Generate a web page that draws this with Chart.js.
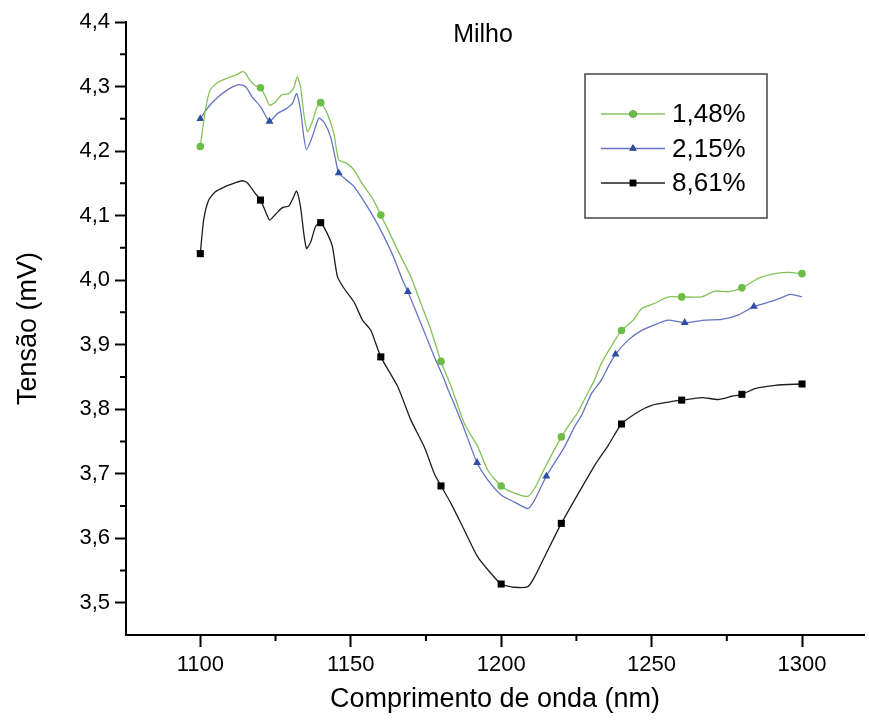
<!DOCTYPE html>
<html lang="pt">
<head>
  <meta charset="UTF-8" />
  <title>Milho</title>
  <style>
    body { margin: 0; background: #fff; }
    #wrap { position: relative; width: 869px; height: 720px; }
  </style>
  <script src="https://cdn.jsdelivr.net/npm/chart.js"></script>
</head>
<body>
  <div id="wrap"><canvas id="chart" width="869" height="720"></canvas></div>
  <script>
    // traced spectra (wavelength nm -> tension mV)
    const greenX = [1100, 1101.7, 1103.3, 1106, 1109.4, 1112, 1114, 1115, 1116, 1118, 1120, 1121.7, 1123, 1125, 1127, 1129.4, 1131, 1132.2, 1133.3, 1134.4, 1135.6, 1137.2, 1138.6, 1140, 1142.2, 1144.4, 1146, 1148.3, 1151, 1154, 1157.2, 1160, 1163.5, 1166.7, 1170, 1173.3, 1176.7, 1180, 1183.3, 1186, 1188, 1192.2, 1195.6, 1200, 1204.4, 1208.9, 1211.1, 1214.4, 1220, 1222.2, 1225.6, 1228, 1231, 1233.3, 1237.2, 1240, 1243.9, 1246.7, 1251, 1255.6, 1260, 1266.7, 1271, 1275.6, 1280, 1285.6, 1291, 1295.6, 1300];
    const greenY = [4.207, 4.264, 4.295, 4.307, 4.314, 4.318, 4.323, 4.321, 4.313, 4.302, 4.298, 4.284, 4.271, 4.276, 4.287, 4.289, 4.297, 4.315, 4.300, 4.258, 4.230, 4.245, 4.266, 4.275, 4.258, 4.227, 4.186, 4.182, 4.171, 4.148, 4.127, 4.101, 4.067, 4.036, 4.005, 3.964, 3.922, 3.874, 3.836, 3.800, 3.775, 3.742, 3.705, 3.681, 3.670, 3.665, 3.677, 3.708, 3.757, 3.773, 3.796, 3.818, 3.845, 3.871, 3.902, 3.922, 3.938, 3.956, 3.964, 3.974, 3.974, 3.974, 3.983, 3.982, 3.988, 4.003, 4.010, 4.012, 4.010];

    const blueX = [1100, 1102.8, 1106, 1109.4, 1112.8, 1115, 1117.2, 1120, 1123, 1125.6, 1128.3, 1130.6, 1132, 1133.3, 1134.4, 1135.3, 1137.2, 1139.4, 1141.1, 1143.3, 1145, 1146, 1149.4, 1151.1, 1153.9, 1157.8, 1161.1, 1164.4, 1167.2, 1169, 1173.3, 1177.8, 1180.9, 1182.2, 1185, 1187, 1192, 1195.6, 1200, 1204.4, 1208.9, 1211.1, 1215, 1221.1, 1224.4, 1226.7, 1230, 1233.3, 1235.6, 1238, 1242.2, 1246.7, 1252.2, 1255.6, 1261, 1267.8, 1273.3, 1278.9, 1284, 1291.1, 1296.1, 1300];
    const blueY = [4.250, 4.269, 4.284, 4.296, 4.303, 4.300, 4.284, 4.269, 4.246, 4.258, 4.265, 4.274, 4.289, 4.264, 4.222, 4.202, 4.222, 4.251, 4.245, 4.222, 4.186, 4.166, 4.152, 4.145, 4.126, 4.096, 4.067, 4.034, 4.000, 3.982, 3.933, 3.881, 3.848, 3.832, 3.801, 3.778, 3.717, 3.690, 3.667, 3.656, 3.646, 3.659, 3.696, 3.742, 3.773, 3.790, 3.824, 3.845, 3.866, 3.885, 3.907, 3.922, 3.933, 3.938, 3.934, 3.938, 3.939, 3.946, 3.959, 3.969, 3.978, 3.974];

    const blackX = [1100, 1101.1, 1102.8, 1105, 1108.3, 1111.7, 1113.9, 1115.6, 1117.8, 1120, 1121.7, 1123, 1125, 1127.2, 1129.4, 1130.8, 1132, 1133.3, 1134.4, 1135.3, 1136.7, 1138.3, 1140, 1142.2, 1143.9, 1145.6, 1147.8, 1151.1, 1153.9, 1156.7, 1160, 1165.6, 1170, 1174.4, 1177.8, 1180, 1183.3, 1187.8, 1192.2, 1196.7, 1200, 1204.4, 1208.9, 1211.1, 1214.4, 1220, 1225.6, 1231.1, 1235.6, 1240, 1245.6, 1250, 1255.6, 1260, 1266.7, 1272.2, 1276.7, 1280, 1284.4, 1291.1, 1300];
    const blackY = [4.041, 4.093, 4.124, 4.137, 4.145, 4.151, 4.154, 4.151, 4.137, 4.124, 4.106, 4.093, 4.102, 4.112, 4.115, 4.127, 4.138, 4.114, 4.072, 4.049, 4.059, 4.083, 4.089, 4.072, 4.052, 4.005, 3.987, 3.966, 3.938, 3.922, 3.881, 3.835, 3.783, 3.742, 3.700, 3.681, 3.654, 3.612, 3.571, 3.545, 3.529, 3.524, 3.525, 3.540, 3.571, 3.623, 3.669, 3.713, 3.744, 3.777, 3.796, 3.806, 3.811, 3.814, 3.818, 3.815, 3.820, 3.823, 3.832, 3.837, 3.839];

    // wavelengths where a symbol is drawn
    const greenMarks = [1100, 1120, 1140, 1160, 1180, 1200, 1220, 1240, 1260, 1280, 1300];
    const blueMarks = [1100, 1123, 1146, 1169, 1192, 1215, 1238, 1261, 1284];
    const blackMarks = [1100, 1120, 1140, 1160, 1180, 1200, 1220, 1240, 1260, 1280, 1300];

    const seriesLabels = ['1,48%', '2,15%', '8,61%'];
    const xTicks = [1100, 1150, 1200, 1250, 1300];
    const yTicks = [3.5, 3.6, 3.7, 3.8, 3.9, 4.0, 4.1, 4.2, 4.3, 4.4];
    const xMinor = [1125, 1175, 1225, 1275];
    const yMinor = [3.55, 3.65, 3.75, 3.85, 3.95, 4.05, 4.15, 4.25, 4.35];

    const FONT = "'Liberation Sans', Arial, sans-serif";

    function pts(xs, ys) {
      return xs.map((x, i) => ({ x: x, y: ys[i] }));
    }
    function markRadius(marks, r) {
      return ctx => (ctx.raw && marks.includes(ctx.raw.x)) ? r : 0;
    }

    const datasets = [
      {
        label: seriesLabels[0], data: pts(greenX, greenY),
        borderColor: '#84c35a', backgroundColor: '#6cbd45',
        pointStyle: 'circle', pointRadius: markRadius(greenMarks, 3.8)
      },
      {
        label: seriesLabels[1], data: pts(blueX, blueY),
        borderColor: '#6474c4', backgroundColor: '#2f4ea3',
        pointStyle: 'triangle', pointRadius: markRadius(blueMarks, 4.6)
      },
      {
        label: seriesLabels[2], data: pts(blackX, blackY),
        borderColor: '#1e1e1e', backgroundColor: '#000',
        pointStyle: 'rect', pointRadius: markRadius(blackMarks, 5)
      }
    ];
    datasets.forEach(d => {
      d.borderWidth = 1.3;
      d.pointBorderWidth = 0;
      d.pointHoverRadius = 0;
      d.tension = 0.2;
      d.fill = false;
    });

    // minor ticks, panel title and boxed legend
    const extras = {
      id: 'extras',
      afterDraw(chart) {
        const ctx = chart.ctx;
        const xs = chart.scales.x, ys = chart.scales.y;
        const area = chart.chartArea;
        ctx.save();
        ctx.strokeStyle = '#000';
        ctx.lineWidth = 2;
        ctx.beginPath();
        xMinor.forEach(v => {
          const px = xs.getPixelForValue(v);
          ctx.moveTo(px, area.bottom); ctx.lineTo(px, area.bottom + 6);
        });
        yMinor.forEach(v => {
          const py = ys.getPixelForValue(v);
          ctx.moveTo(area.left, py); ctx.lineTo(area.left - 6, py);
        });
        ctx.stroke();

        // title
        ctx.fillStyle = '#000';
        ctx.font = '25px ' + FONT;
        ctx.textAlign = 'center';
        ctx.textBaseline = 'middle';
        ctx.fillText('Milho', area.left + 357, area.top + 13);

        // legend
        const bx = area.left + 459, by = area.top + 52, bw = 182, bh = 144;
        ctx.strokeStyle = '#444';
        ctx.lineWidth = 1.5;
        ctx.strokeRect(bx, by, bw, bh);
        ctx.font = '26px ' + FONT;
        ctx.textAlign = 'left';
        chart.data.datasets.forEach((d, i) => {
          const cy = by + 40 + i * 34.5;
          ctx.strokeStyle = d.borderColor;
          ctx.lineWidth = 1.3;
          ctx.beginPath();
          ctx.moveTo(bx + 16, cy); ctx.lineTo(bx + 80, cy);
          ctx.stroke();
          const r = i === 0 ? 3.6 : (i === 1 ? 4.2 : 4.6);
          Chart.helpers.drawPoint(ctx, {
            pointStyle: d.pointStyle, radius: r, borderWidth: 0
          }, bx + 48, cy);
          ctx.fillStyle = d.backgroundColor;
          ctx.fill();
          ctx.fillStyle = '#000';
          ctx.fillText(d.label, bx + 87, cy + 1);
        });
        ctx.restore();
      }
    };

    new Chart(document.getElementById('chart'), {
      type: 'line',
      data: { datasets: datasets },
      plugins: [extras],
      options: {
        responsive: false,
        animation: false,
        events: [],
        layout: { padding: { top: 22, right: 0, bottom: 0, left: 0 } },
        plugins: { legend: { display: false }, tooltip: { enabled: false } },
        scales: {
          x: {
            type: 'linear', min: 1075.3, max: 1320.6,
            afterBuildTicks: s => { s.ticks = xTicks.map(v => ({ value: v })); },
            afterFit: s => { s.height = 85; },
            border: { display: true, color: '#000', width: 2 },
            grid: { drawOnChartArea: false, tickLength: 12, tickWidth: 2, tickColor: '#000' },
            ticks: {
              color: '#000', padding: 5, maxRotation: 0,
              font: { family: FONT, size: 22 },
              callback: v => String(v)
            },
            title: {
              display: true, text: 'Comprimento de onda (nm)', color: '#000',
              font: { family: FONT, size: 27 }, padding: { top: 2, bottom: 4 }
            }
          },
          y: {
            type: 'linear', min: 3.45, max: 4.4,
            afterBuildTicks: s => { s.ticks = yTicks.map(v => ({ value: v })); },
            afterFit: s => { s.width = 126; },
            border: { display: true, color: '#000', width: 2 },
            grid: { drawOnChartArea: false, tickLength: 11, tickWidth: 2, tickColor: '#000' },
            ticks: {
              color: '#000', padding: 5,
              font: { family: FONT, size: 22 },
              callback: v => v.toFixed(1).replace('.', ',')
            },
            title: {
              display: true, text: 'Tensão (mV)', color: '#000',
              font: { family: FONT, size: 27 }, padding: { top: 12, bottom: 0 }
            }
          }
        }
      }
    });
  </script>
</body>
</html>
